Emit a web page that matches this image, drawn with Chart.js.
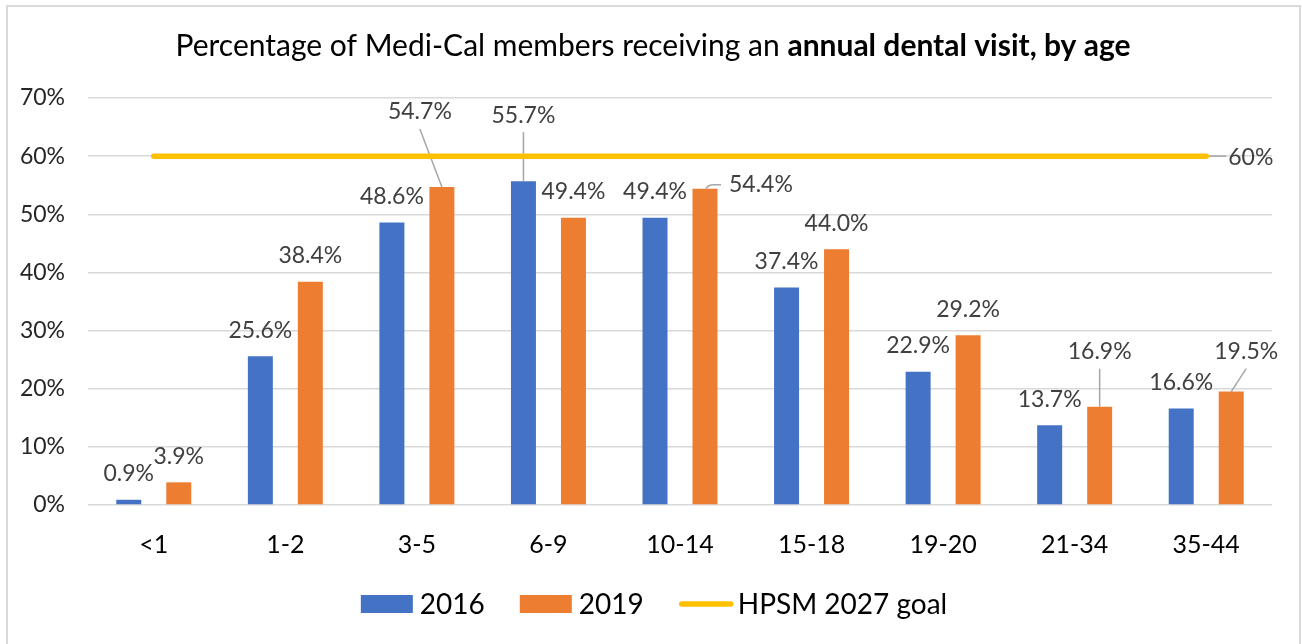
<!DOCTYPE html>
<html>
<head>
<meta charset="utf-8">
<script src="https://cdn.jsdelivr.net/npm/chart.js@4.4.0/dist/chart.umd.min.js"></script>
<style>
  html, body { margin: 0; padding: 0; background: #fff; }
  #wrap { width: 1302px; height: 644px; position: relative; }
</style>
</head>
<body>
<div id="wrap"><canvas id="dentalGraph"></canvas></div>
<script>
const ageGroups = ['<1', '1-2', '3-5', '6-9', '10-14', '15-18', '19-20', '21-34', '35-44'];
const visits2016 = [0.9, 25.6, 48.6, 55.7, 49.4, 37.4, 22.9, 13.7, 16.6];
const visits2019 = [3.9, 38.4, 54.7, 49.4, 54.4, 44.0, 29.2, 16.9, 19.5];
const goal2027 = 60;
const seriesNames = ['2016', '2019', 'HPSM 2027 goal'];
const titleParts = ['Percentage of Medi-Cal members receiving an ', 'annual dental visit, by age'];

const FONT = 'Lato, "Open Sans", sans-serif';
const BLUE = '#4472C4', ORANGE = '#ED7D31', GOLD = '#FFC000';

// labels that Excel had moved away from the bar top (datasetIndex-index)
const movedLabels = {
    '1-2': { dx: -22, dy: -75, leader: 'line' },
    '0-3': { dx: 0, dy: -66, leader: 'line' },
    '1-4': { dx: 24, dy: -4, leader: 'hook', align: 'left' },
    '1-7': { dx: 0, dy: -55, leader: 'line' },
    '1-8': { dx: 15, dy: -40, leader: 'line' }
};

const fmt = v => v.toFixed(1) + '%';

const extrasPlugin = {
    id: 'extras',
    beforeDatasetsDraw(chart) {
        const ctx = chart.ctx;
        ctx.save();
        ctx.strokeStyle = '#a6a6a6';
        ctx.lineWidth = 1.5;
        [0, 1].forEach(di => {
            chart.getDatasetMeta(di).data.forEach((bar, i) => {
                const m = movedLabels[di + '-' + i];
                if (!m) return;
                const tx = bar.x + m.dx, ty = bar.y + m.dy;
                ctx.beginPath();
                if (m.leader === 'hook') {
                    ctx.moveTo(bar.x + 1, bar.y);
                    ctx.quadraticCurveTo(bar.x + 3, bar.y - 4, bar.x + 9, bar.y - 4);
                    ctx.lineTo(tx - 8, bar.y - 4);
                } else {
                    ctx.moveTo(tx, ty + 17);
                    ctx.lineTo(bar.x, bar.y);
                }
                ctx.stroke();
            });
        });
        // leader to the goal label
        const goalPts = chart.getDatasetMeta(2).data;
        const last = goalPts[goalPts.length - 1];
        ctx.beginPath();
        ctx.moveTo(last.x, last.y);
        ctx.lineTo(last.x + 20, last.y);
        ctx.stroke();
        ctx.restore();
    },
    afterDatasetsDraw(chart) {
        const ctx = chart.ctx;
        ctx.save();
        ctx.font = '23px ' + FONT;
        ctx.fillStyle = '#404040';
        ctx.textBaseline = 'middle';
        [0, 1].forEach(di => {
            const vals = chart.data.datasets[di].data;
            chart.getDatasetMeta(di).data.forEach((bar, i) => {
                const m = movedLabels[di + '-' + i] || { dx: 0, dy: -26 };
                ctx.textAlign = m.align || 'center';
                ctx.fillText(fmt(vals[i]), bar.x + m.dx, bar.y + m.dy);
            });
        });
        const goalPts = chart.getDatasetMeta(2).data;
        const last = goalPts[goalPts.length - 1];
        ctx.textAlign = 'left';
        ctx.fillText(goal2027 + '%', last.x + 22, last.y + 1);
        ctx.restore();
    },
    afterDraw(chart) {
        const ctx = chart.ctx;
        ctx.save();
        // outer frame
        ctx.strokeStyle = '#d9d9d9';
        ctx.lineWidth = 2;
        ctx.strokeRect(7, 6, 1293, 700);

        // title, regular + bold
        ctx.fillStyle = '#000';
        ctx.textBaseline = 'middle';
        ctx.textAlign = 'left';
        const fReg = '30px ' + FONT, fBold = 'bold 30px ' + FONT;
        ctx.font = fReg;
        const w1 = ctx.measureText(titleParts[0]).width;
        ctx.font = fBold;
        const w2 = ctx.measureText(titleParts[1]).width;
        let x = 653 - (w1 + w2) / 2;
        ctx.font = fReg;
        ctx.fillText(titleParts[0], x, 46);
        ctx.font = fBold;
        ctx.fillText(titleParts[1], x + w1, 46);

        // legend
        const ly = 604;
        ctx.font = '28px ' + FONT;
        const items = [
            { name: seriesNames[0], color: BLUE, kind: 'box' },
            { name: seriesNames[1], color: ORANGE, kind: 'box' },
            { name: seriesNames[2], color: GOLD, kind: 'line' }
        ];
        const widths = items.map(it => 52 + 7 + ctx.measureText(it.name).width);
        const total = widths.reduce((a, b) => a + b, 0) + 35 * (items.length - 1);
        x = 654 - total / 2;
        items.forEach((it, k) => {
            if (it.kind === 'box') {
                ctx.fillStyle = it.color;
                ctx.fillRect(x, ly - 9, 52, 18);
            } else {
                ctx.strokeStyle = it.color;
                ctx.lineWidth = 5.5;
                ctx.lineCap = 'round';
                ctx.beginPath();
                ctx.moveTo(x + 3, ly);
                ctx.lineTo(x + 52, ly);
                ctx.stroke();
            }
            ctx.fillStyle = '#000';
            ctx.fillText(it.name, x + 59, ly + 1);
            x += widths[k] + 35;
        });
        ctx.restore();
    }
};

const ctx = document.getElementById('dentalGraph').getContext('2d');
const dentalGraph = new Chart(ctx, {
    type: 'bar',
    data: {
        labels: ageGroups,
        datasets: [{
            label: seriesNames[0],
            data: visits2016,
            backgroundColor: BLUE,
            order: 1,
            categoryPercentage: 0.76,
            barPercentage: 0.5
        }, {
            label: seriesNames[1],
            data: visits2019,
            backgroundColor: ORANGE,
            order: 1,
            categoryPercentage: 0.76,
            barPercentage: 0.5
        }, {
            type: 'line',
            label: seriesNames[2],
            data: ageGroups.map(() => goal2027),
            borderColor: GOLD,
            borderWidth: 5.5,
            borderCapStyle: 'round',
            pointRadius: 0,
            fill: false,
            order: 0
        }]
    },
    options: {
        responsive: true,
        maintainAspectRatio: false,
        animation: false,
        layout: {
            padding: { top: 98, right: 30, bottom: 0, left: 0 }
        },
        plugins: {
            legend: { display: false },
            title: { display: false },
            tooltip: { enabled: false }
        },
        scales: {
            y: {
                min: 0,
                max: 70,
                ticks: {
                    stepSize: 10,
                    padding: 23,
                    color: '#262626',
                    font: { family: FONT, size: 23 },
                    callback: v => v + '%'
                },
                grid: {
                    color: '#d9d9d9',
                    lineWidth: 1.5,
                    drawTicks: false
                },
                border: { display: false },
                afterFit: scale => { scale.width = 88; }
            },
            x: {
                ticks: {
                    padding: 25,
                    color: '#000',
                    font: { family: FONT, size: 25 }
                },
                grid: { display: false, drawTicks: false },
                border: { display: false },
                afterFit: scale => { scale.height = 139; }
            }
        }
    },
    plugins: [extrasPlugin]
});
</script>
</body>
</html>
